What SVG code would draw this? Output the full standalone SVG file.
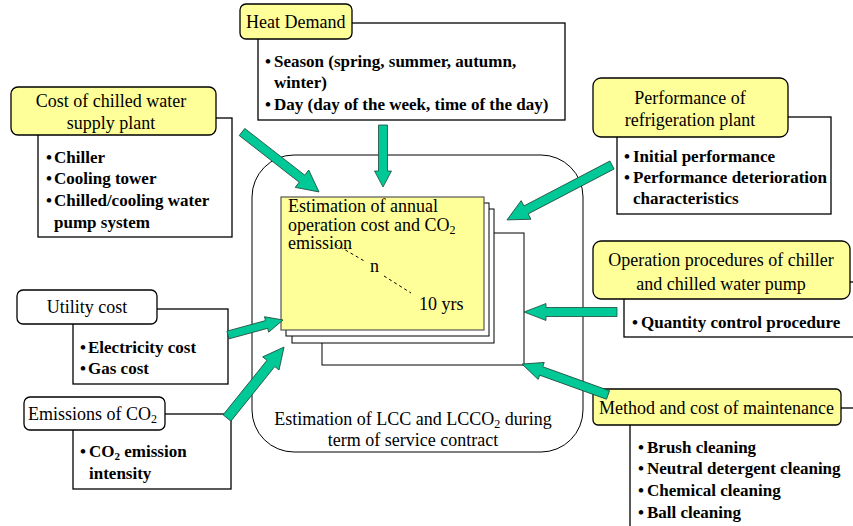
<svg xmlns="http://www.w3.org/2000/svg" width="853" height="526" viewBox="0 0 853 526" font-family="Liberation Serif, Times New Roman, serif" font-size="18">
<style>
.b{font-weight:bold;font-size:17px}
.m{text-anchor:middle}
.box{fill:#fff;stroke:#000;stroke-width:1.3}
.yel{fill:#ffff99;stroke:#000;stroke-width:1.3}
.wr{fill:#fff;stroke:#000;stroke-width:1.3}
.arr{fill:#00c896;stroke:#1d4d3a;stroke-width:0.8}
.page{fill:#fff;stroke:#000;stroke-width:1}
</style>
<rect width="853" height="526" fill="#fff"/>

<g id="center">
<rect x="252" y="155" width="331" height="297" rx="42" fill="#fff" stroke="#000" stroke-width="1"/>
<rect class="page" x="322" y="233" width="202" height="132"/>
<rect class="page" x="292" y="209" width="202" height="134"/>
<rect class="page" x="286" y="203" width="203" height="133" stroke="#555"/>
<rect x="281" y="197" width="203" height="133" fill="#ffff99" stroke="#555" stroke-width="1.2"/>
<text x="288" y="212">Estimation of annual</text>
<text x="288" y="231">operation cost and CO<tspan font-size="12" dy="3">2</tspan></text>
<text x="288" y="249">emission</text>
<line x1="335" y1="244" x2="366" y2="262" stroke="#000" stroke-dasharray="3,3"/>
<line x1="384" y1="276" x2="411" y2="293" stroke="#000" stroke-dasharray="3,3"/>
<text x="370" y="272">n</text>
<text x="419" y="310">10 yrs</text>
<text class="m" x="413" y="425">Estimation of LCC and LCCO<tspan font-size="12" dy="3">2</tspan><tspan dy="-3"> during</tspan></text>
<text class="m" x="413" y="446">term of service contract</text>
</g>

<g id="heat-demand">
<rect class="box" x="258" y="23" width="307" height="97"/>
<rect class="yel" x="240" y="4" width="112" height="35" rx="6"/>
<text x="246" y="28">Heat Demand</text>
<text class="b" x="265" y="67">•</text><text class="b" x="274" y="67">Season (spring, summer, autumn,</text>
<text class="b" x="274" y="88">winter)</text>
<text class="b" x="265" y="110">•</text><text class="b" x="274" y="110">Day (day of the week, time of the day)</text>
</g>

<g id="cost-plant">
<rect class="box" x="38" y="118" width="194" height="119"/>
<rect class="yel" x="11" y="87" width="205" height="48" rx="7"/>
<text class="m" x="111" y="107">Cost of chilled water</text>
<text class="m" x="111" y="129">supply plant</text>
<text class="b" x="46" y="163">•</text><text class="b" x="54" y="163">Chiller</text>
<text class="b" x="46" y="184">•</text><text class="b" x="54" y="184">Cooling tower</text>
<text class="b" x="46" y="206">•</text><text class="b" x="54" y="206">Chilled/cooling water</text>
<text class="b" x="54" y="228">pump system</text>
</g>

<g id="performance">
<rect class="box" x="617" y="117" width="214" height="97"/>
<rect class="yel" x="593" y="78" width="195" height="59" rx="8"/>
<text class="m" x="690" y="104">Performance of</text>
<text class="m" x="690" y="126">refrigeration plant</text>
<text class="b" x="624" y="162">•</text><text class="b" x="633" y="162">Initial performance</text>
<text class="b" x="624" y="183">•</text><text class="b" x="633" y="183">Performance deterioration</text>
<text class="b" x="633" y="204">characteristics</text>
</g>

<g id="utility">
<rect class="box" x="73" y="309" width="155" height="75"/>
<rect class="wr" x="17" y="290" width="140" height="34" rx="6"/>
<text class="m" x="87" y="313">Utility cost</text>
<text class="b" x="80" y="353">•</text><text class="b" x="88" y="353">Electricity cost</text>
<text class="b" x="80" y="374">•</text><text class="b" x="88" y="374">Gas cost</text>
</g>

<g id="emissions">
<rect class="box" x="73" y="414" width="158" height="75"/>
<rect class="wr" x="24" y="397" width="141" height="33" rx="6"/>
<text x="28" y="420">Emissions of CO<tspan font-size="12" dy="3">2</tspan></text>
<text class="b" x="80" y="457">•</text><text class="b" x="89" y="457">CO<tspan font-size="11" dy="3">2</tspan><tspan dy="-3"> emission</tspan></text>
<text class="b" x="89" y="479">intensity</text>
</g>

<g id="operation">
<rect class="box" x="624" y="282" width="230" height="55"/>
<rect class="yel" x="593" y="241" width="257" height="58" rx="8"/>
<text class="m" x="721" y="266">Operation procedures of chiller</text>
<text class="m" x="721" y="290">and chilled water pump</text>
<text class="b" x="632" y="328">•</text><text class="b" x="641" y="328">Quantity control procedure</text>
</g>

<g id="maintenance">
<rect class="box" x="630" y="408" width="240" height="130"/>
<rect class="yel" x="593" y="389" width="248" height="36" rx="5"/>
<text x="599" y="414">Method and cost of maintenance</text>
<text class="b" x="638" y="453">•</text><text class="b" x="647" y="453">Brush cleaning</text>
<text class="b" x="638" y="474">•</text><text class="b" x="647" y="474">Neutral detergent cleaning</text>
<text class="b" x="638" y="496">•</text><text class="b" x="647" y="496">Chemical cleaning</text>
<text class="b" x="638" y="518">•</text><text class="b" x="647" y="518">Ball cleaning</text>
</g>

<g id="connectors">
<polygon class="arr" transform="translate(242,132) rotate(37.9)" points="0,-4.5 76,-4.5 76,-11 97.6,0 76,11 76,4.5 0,4.5"/>
<polygon class="arr" transform="translate(383,125) rotate(90)" points="0,-4.5 46,-4.5 46,-8.5 62,0 46,8.5 46,4.5 0,4.5"/>
<polygon class="arr" transform="translate(612,165) rotate(152.4)" points="0,-4.5 97,-4.5 97,-10.5 118.5,0 97,10.5 97,4.5 0,4.5"/>
<polygon class="arr" transform="translate(617,312) rotate(180)" points="0,-4.5 71,-4.5 71,-8.5 93,0 71,8.5 71,4.5 0,4.5"/>
<polygon class="arr" transform="translate(608,395) rotate(-160.2)" points="0,-4.5 71,-4.5 71,-9 91.4,0 71,9 71,4.5 0,4.5"/>
<polygon class="arr" transform="translate(228,335) rotate(-15.3)" points="0,-4 40,-4 40,-8 57,0 40,8 40,4 0,4"/>
<polygon class="arr" transform="translate(227,418) rotate(-51.2)" points="0,-5 70,-5 70,-10.5 91,0 70,10.5 70,5 0,5"/>
</g>
</svg>
